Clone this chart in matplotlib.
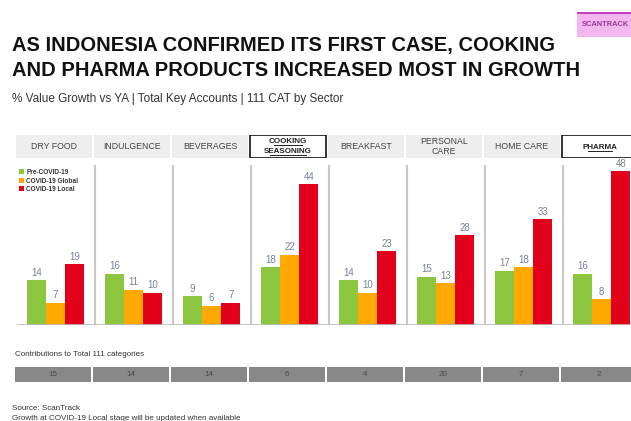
import matplotlib.pyplot as plt
from matplotlib.patches import Rectangle
import numpy as np

plt.rcParams['font.family'] = ['Liberation Sans', 'DejaVu Sans']

# data
sectors = ['DRY FOOD', 'INDULGENCE', 'BEVERAGES', 'COOKING\nSEASONING',
           'BREAKFAST', 'PERSONAL\nCARE', 'HOME CARE', 'PHARMA']
highlight = [3, 7]
pre_covid = [14, 16, 9, 18, 14, 15, 17, 16]
covid_global = [7, 11, 6, 22, 10, 13, 18, 8]
covid_local = [19, 10, 7, 44, 23, 28, 33, 48]
contributions = [15, 14, 14, 6, 4, 20, 7, 2]
series_names = ['Pre-COVID-19', 'COVID-19 Global', 'COVID-19 Local']
colors = ['#8cc63f', '#ffa800', '#e2001a']

W, H = 631, 421
fig = plt.figure(figsize=(W / 100, H / 100), dpi=100)
fig.patch.set_facecolor('white')

def fx(px):
    return px / W

def fy(px):
    return 1 - px / H

# titles
fig.text(fx(12), fy(45), 'AS INDONESIA CONFIRMED ITS FIRST CASE, COOKING',
         fontsize=14.5, fontweight='bold', va='center', color='#111111')
fig.text(fx(12), fy(70), 'AND PHARMA PRODUCTS INCREASED MOST IN GROWTH',
         fontsize=14.5, fontweight='bold', va='center', color='#111111')
fig.text(fx(12), fy(99), '% Value Growth vs YA | Total Key Accounts | 111 CAT by Sector',
         fontsize=8.5, va='center', color='#333333')

# scantrack badge
fig.patches.append(Rectangle((fx(577), fy(37)), fx(60), 25 / H, transform=fig.transFigure,
                             facecolor='#f3b6ef', edgecolor='none'))
fig.patches.append(Rectangle((fx(577), fy(14)), fx(60), 2 / H, transform=fig.transFigure,
                             facecolor='#c83cc0', edgecolor='none'))
fig.text(fx(582), fy(25), 'SCANTRACK', fontsize=5.4, fontweight='bold', color='#9a3a96', va='center')

panel_w = 78
x0 = 17
n = len(sectors)
ax_w = fx(panel_w * n)

# main bar axes
ax = fig.add_axes([fx(x0), fy(325), ax_w, 160 / H])
x = np.arange(n)
bw = 0.245
offs = [0.25, 0.495, 0.74]
for vals, off, c, name in zip([pre_covid, covid_global, covid_local], offs, colors, series_names):
    bars = ax.bar(x + off, vals, width=bw, color=c, label=name)
    for b, v in zip(bars, vals):
        ax.text(b.get_x() + b.get_width() / 2, v + 0.8, str(v), ha='center', va='bottom',
                fontsize=7, color='#77819a')
for i in range(1, n):
    ax.axvline(i, color='#c8c8c8', lw=1.5)
ax.axhline(0, color='#bbbbbb', lw=1.2)
ax.set_xlim(0, n)
ax.set_ylim(0, 50)
ax.axis('off')
leg = ax.legend(loc='upper left', bbox_to_anchor=(-0.003, 1.0), frameon=False,
                fontsize=4.7, handlelength=0.8, handleheight=0.8, handletextpad=0.3,
                labelspacing=0.25, borderpad=0.1)
for t in leg.get_texts():
    t.set_fontweight('bold')
    t.set_color('#333333')

# header cells
hax = fig.add_axes([fx(x0 - 2), fy(158), ax_w, 23 / H])
hax.set_xlim(0, n)
hax.set_ylim(0, 1)
hax.axis('off')
for i, s in enumerate(sectors):
    lines = s.split('\n')
    k = len(lines)
    if i in highlight:
        hax.add_patch(Rectangle((i + 0.01, 0.0), 0.98, 1.0, facecolor='white',
                                edgecolor='#222222', lw=1.3))
        base = [0.39] if k == 1 else [0.65, 0.22]
        for ln, yb in zip(lines, base):
            hax.text(i + 0.5, yb, ln, ha='center', va='baseline', fontsize=5.8,
                     fontweight='bold', color='#222222')
            half = len(ln) * 0.025
            hax.plot([i + 0.5 - half, i + 0.5 + half], [yb - 0.08, yb - 0.08],
                     color='#222222', lw=0.7)
    else:
        hax.add_patch(Rectangle((i + 0.01, 0.0), 0.98, 1.0, facecolor='#eeeeee',
                                edgecolor='none'))
        ys = [0.5] if k == 1 else [0.72, 0.3]
        for ln, yy in zip(lines, ys):
            hax.text(i + 0.5, yy, ln, ha='center', va='center', fontsize=6.3,
                     color='#444444')

# contributions row
fig.text(fx(15), fy(355), 'Contributions to Total 111 categories', fontsize=5.8,
         color='#333333', va='center')
cax = fig.add_axes([fx(x0 - 3), fy(382), ax_w, 15 / H])
cax.set_xlim(0, n)
cax.set_ylim(0, 1)
cax.axis('off')
for i, v in enumerate(contributions):
    cax.add_patch(Rectangle((i + 0.01, 0), 0.98, 1, facecolor='#888888', edgecolor='none'))
    cax.text(i + 0.5, 0.5, str(v), ha='center', va='center', fontsize=5.8, color='#4a4a4a')

fig.text(fx(12), fy(408), 'Source: ScanTrack', fontsize=5.8, color='#333333', va='center')
fig.text(fx(12), fy(419), 'Growth at COVID-19 Local stage will be updated when available',
         fontsize=5.8, color='#333333', va='center')

fig.savefig('out.png', dpi=100, facecolor='white')
